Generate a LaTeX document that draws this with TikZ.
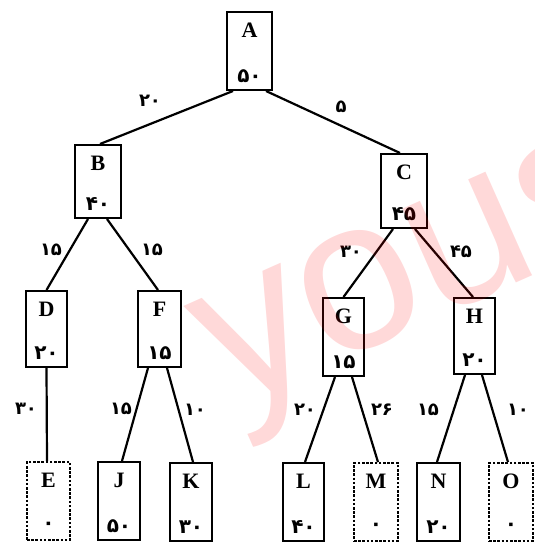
\documentclass[tikz,border=0pt]{standalone}
\usepackage{fontspec}
\setmainfont{Liberation Serif}
\newfontfamily\fadigits[Script=Arabic]{DejaVu Sans}
\newfontfamily\wmfont{Liberation Sans}
\tikzset{
  boxst/.style={draw, line width=2pt, inner sep=0pt},
  leafdash/.style={draw, line width=1.8pt, dash pattern=on 2.6pt off 1.6pt},
  solidbox/.style={},
  letterst/.style={font=\fontsize{22}{22}\selectfont\bfseries, inner sep=0pt},
  numst/.style={font=\fontsize{20}{20}\selectfont\fadigits\bfseries, inner sep=0pt},
  edgelab/.style={font=\fontsize{18}{18}\selectfont\fadigits\bfseries, inner sep=0pt},
  link/.style={line width=2.2pt},
  wm/.style={font=\fontsize{215}{215}\selectfont\wmfont, text=red, text opacity=0.15, inner sep=0pt}
}
\newcommand{\treebox}[8]{%
  \node[boxst,#8,minimum width=#4pt,minimum height=#5pt] (#1) at (#2,#3) {};
  \node[letterst] (#1l) at ([yshift=-19pt]#1.north) {#6};
  \node[numst] (#1n) at ([yshift=15pt]#1.south) {#7};
}
\begin{document}
\begin{tikzpicture}[x=1pt,y=-1pt]
\useasboundingbox (0,0) rectangle (535,544);
\fill[white] (0,0) rectangle (535,544);
% boxes
\treebox{A}{249.5}{51}{45}{78}{A}{۵۰}{solidbox}
\treebox{B}{98}{181.5}{46}{73}{B}{۴۰}{solidbox}
\treebox{C}{404}{191}{46}{74}{C}{۴۵}{solidbox}
\treebox{D}{46.5}{329}{41}{76}{D}{۲۰}{solidbox}
\treebox{F}{159.5}{329}{43}{76}{F}{۱۵}{solidbox}
\treebox{G}{343.5}{337}{41}{78}{G}{۱۵}{solidbox}
\treebox{H}{474.5}{336}{41}{76}{H}{۲۰}{solidbox}
\treebox{E}{48.5}{501}{43}{78}{E}{۰}{leafdash}
\treebox{J}{119}{501}{42}{78}{J}{۵۰}{solidbox}
\treebox{K}{191}{502}{42}{78}{K}{۳۰}{solidbox}
\treebox{L}{303.5}{502}{41}{78}{L}{۴۰}{solidbox}
\treebox{M}{376}{502}{44}{78}{M}{۰}{leafdash}
\treebox{N}{438.5}{502}{43}{78}{N}{۲۰}{solidbox}
\treebox{O}{511}{502}{44}{78}{O}{۰}{leafdash}
% connectors
\draw[link] ([xshift=-16.5pt]A.south) -- ([xshift=2pt]B.north);
\draw[link] ([xshift=16.5pt]A.south) -- ([xshift=-4pt]C.north);
\draw[link] ([xshift=-10pt]B.south) -- (D.north);
\draw[link] ([xshift=9pt]B.south) -- ([xshift=-1.5pt]F.north);
\draw[link] ([xshift=-11pt]C.south) -- (G.north);
\draw[link] ([xshift=11pt]C.south) -- ([xshift=-1.5pt]H.north);
\draw[link] (D.south) -- ([xshift=-1.5pt]E.north);
\draw[link] ([xshift=-11.5pt]F.south) -- ([xshift=3pt]J.north);
\draw[link] ([xshift=7.5pt]F.south) -- ([xshift=2pt]K.north);
\draw[link] ([xshift=-8.5pt]G.south) -- ([xshift=1.5pt]L.north);
\draw[link] ([xshift=8.5pt]G.south) -- ([xshift=2pt]M.north);
\draw[link] ([xshift=-9.5pt]H.south) -- ([xshift=-1.5pt]N.north);
\draw[link] ([xshift=7.5pt]H.south) -- ([xshift=-3pt]O.north);
% edge labels
\node[edgelab] (lab) at (150,101) {۲۰};
\node[edgelab] (lac) at (341,107) {۵};
\node[edgelab] (lbd) at (51,250) {۱۵};
\node[edgelab] (lbf) at (152,250) {۱۵};
\node[edgelab] (lcg) at (351,252) {۳۰};
\node[edgelab] (lch) at (461,252) {۴۵};
\node[edgelab] (lde) at (26,409) {۳۰};
\node[edgelab] (lfj) at (121,409) {۱۵};
\node[edgelab] (lfk) at (195,410) {۱۰};
\node[edgelab] (lgl) at (305,410) {۲۰};
\node[edgelab] (lgm) at (382,410) {۲۶};
\node[edgelab] (lhn) at (428,410) {۱۵};
\node[edgelab] (lho) at (518,410) {۱۰};
% watermark
\begin{scope}
\clip (0,0) rectangle (535,544);
\node[wm, rotate=24, anchor=base] (wmark) at (437,318) {yous};
\end{scope}
\end{tikzpicture}
\end{document}
